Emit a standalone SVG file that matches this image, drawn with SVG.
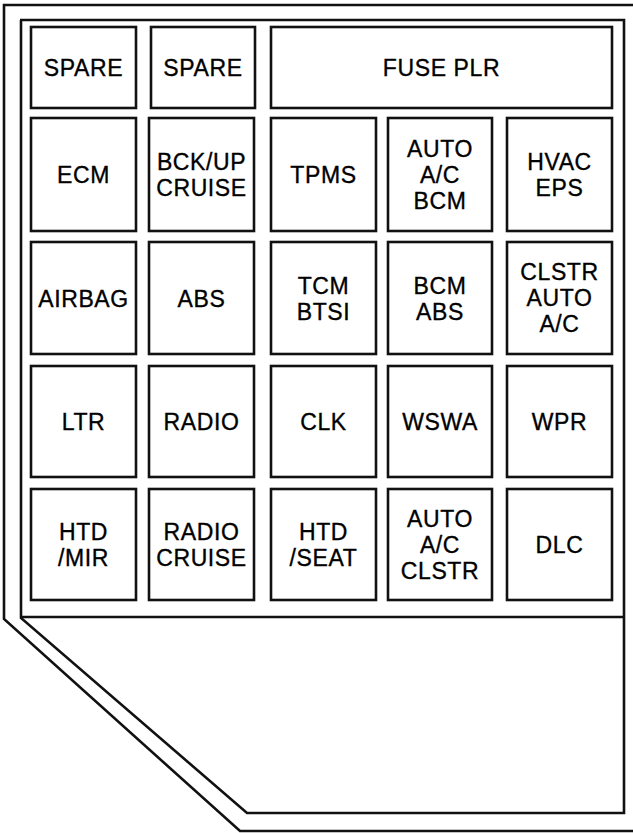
<svg xmlns="http://www.w3.org/2000/svg" width="633" height="833" viewBox="0 0 633 833">
<style>
.o{fill:none;stroke:#111;stroke-width:2.6;stroke-linejoin:miter}
.b{fill:#fff;stroke:#111;stroke-width:2.6}
.t{font-family:"Liberation Sans",Arial,sans-serif;font-size:23px;fill:#000;stroke:#000;stroke-width:0.35;text-anchor:middle;letter-spacing:0.6px}
</style>
<rect width="633" height="833" fill="#fff"/>
<g id="housing">
<path class="o" d="M 640,5 H 4 V 619 L 240,831 H 640"/>
<path class="o" d="M 20,20 H 624 V 813 H 247 L 21,618 V 20 Z"/>
<path class="o" d="M 20,617 H 624"/>
</g>
<g id="r1c1"><rect class="b" x="31" y="27" width="105" height="81"/><text class="t" x="83.5" y="76">SPARE</text></g>
<g id="r1c2"><rect class="b" x="151" y="27" width="104" height="81"/><text class="t" x="203" y="76">SPARE</text></g>
<g id="r1c3"><rect class="b" x="271" y="27" width="341" height="81"/><text class="t" x="441.5" y="76">FUSE PLR</text></g>

<g id="r2c1"><rect class="b" x="31" y="118" width="105" height="113"/><text class="t" x="83.5" y="183">ECM</text></g>
<g id="r2c2"><rect class="b" x="149" y="118" width="105" height="113"/><text class="t" x="201.5" y="170">BCK/UP</text><text class="t" x="201.5" y="196">CRUISE</text></g>
<g id="r2c3"><rect class="b" x="271" y="118" width="105" height="113"/><text class="t" x="323.5" y="183">TPMS</text></g>
<g id="r2c4"><rect class="b" x="388" y="118" width="104" height="113"/><text class="t" x="440" y="157">AUTO</text><text class="t" x="440" y="183">A/C</text><text class="t" x="440" y="208.5">BCM</text></g>
<g id="r2c5"><rect class="b" x="507" y="118" width="105" height="113"/><text class="t" x="559.5" y="170">HVAC</text><text class="t" x="559.5" y="196">EPS</text></g>

<g id="r3c1"><rect class="b" x="31" y="242" width="105" height="112"/><text class="t" x="83.5" y="307">AIRBAG</text></g>
<g id="r3c2"><rect class="b" x="149" y="242" width="105" height="112"/><text class="t" x="201.5" y="307">ABS</text></g>
<g id="r3c3"><rect class="b" x="271" y="242" width="105" height="112"/><text class="t" x="323.5" y="294">TCM</text><text class="t" x="323.5" y="320">BTSI</text></g>
<g id="r3c4"><rect class="b" x="388" y="242" width="104" height="112"/><text class="t" x="440" y="294">BCM</text><text class="t" x="440" y="320">ABS</text></g>
<g id="r3c5"><rect class="b" x="507" y="242" width="105" height="112"/><text class="t" x="559.5" y="280">CLSTR</text><text class="t" x="559.5" y="306">AUTO</text><text class="t" x="559.5" y="332">A/C</text></g>

<g id="r4c1"><rect class="b" x="31" y="366" width="105" height="111"/><text class="t" x="83.5" y="430">LTR</text></g>
<g id="r4c2"><rect class="b" x="149" y="366" width="105" height="111"/><text class="t" x="201.5" y="430">RADIO</text></g>
<g id="r4c3"><rect class="b" x="271" y="366" width="105" height="111"/><text class="t" x="323.5" y="430">CLK</text></g>
<g id="r4c4"><rect class="b" x="388" y="366" width="104" height="111"/><text class="t" x="440" y="430">WSWA</text></g>
<g id="r4c5"><rect class="b" x="507" y="366" width="105" height="111"/><text class="t" x="559.5" y="430">WPR</text></g>

<g id="r5c1"><rect class="b" x="31" y="489" width="105" height="111"/><text class="t" x="83.5" y="540">HTD</text><text class="t" x="83.5" y="566">/MIR</text></g>
<g id="r5c2"><rect class="b" x="149" y="489" width="105" height="111"/><text class="t" x="201.5" y="540">RADIO</text><text class="t" x="201.5" y="566">CRUISE</text></g>
<g id="r5c3"><rect class="b" x="271" y="489" width="105" height="111"/><text class="t" x="323.5" y="540">HTD</text><text class="t" x="323.5" y="566">/SEAT</text></g>
<g id="r5c4"><rect class="b" x="388" y="489" width="104" height="111"/><text class="t" x="440" y="527">AUTO</text><text class="t" x="440" y="553">A/C</text><text class="t" x="440" y="579">CLSTR</text></g>
<g id="r5c5"><rect class="b" x="507" y="489" width="105" height="111"/><text class="t" x="559.5" y="553">DLC</text></g>
<g id="connectors"/>
</svg>
